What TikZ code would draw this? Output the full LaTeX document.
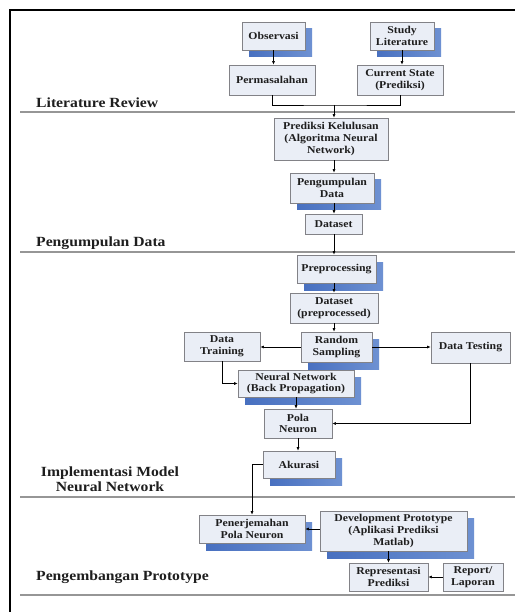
\documentclass[tikz,border=0pt]{standalone}
\usepackage{fontspec}
\setmainfont{Liberation Serif}[FakeStretch=1.12]
\usetikzlibrary{shadows,arrows.meta}
\definecolor{boxfill}{RGB}{234,238,246}
\definecolor{boxline}{RGB}{130,130,135}
\definecolor{shblue}{RGB}{72,112,192}
\definecolor{shblueL}{RGB}{110,145,210}
\definecolor{sepgray}{RGB}{150,150,150}
\definecolor{txt}{RGB}{30,30,30}
\tikzset{
  stepbox/.style={draw=boxline, line width=0.7pt, fill=boxfill, align=center,
    inner sep=1pt, text=txt,
    font=\fontsize{10.5}{11.6}\selectfont\bfseries},
  shbox/.style={stepbox, general shadow={left color=shblue, right color=shblueL, shadow xshift=7pt, shadow yshift=-7pt}},
  conn/.style={draw=black, line width=0.6pt},
  arr/.style={conn, -{Latex[length=3.5pt,width=3pt]}},
  seclabel/.style={inner sep=0pt, text=txt, align=center,
    font=\fontsize{14}{14}\selectfont\bfseries},
  sepline/.style={draw=sepgray, line width=1.3pt},
}
\newcommand{\bx}[6]{\node[#1, minimum width=#4pt, minimum height=#5pt] (#2) at #3 {#6};}
\begin{document}
\begin{tikzpicture}[x=1pt,y=-1pt]
\useasboundingbox (0,0) rectangle (515,612);
\fill[white] (0,0) rectangle (515,612);
% outer frame
\coordinate (fTL) at (10,10);
\coordinate (fTR) at (515,10);
\coordinate (fBL) at (10,612);
\draw[black, line width=1.6pt] (fBL) -- (fTL) -- (fTR);
% separators
\coordinate (s1a) at (20,112); \coordinate (s1b) at (515,112);
\coordinate (s2a) at (20,252); \coordinate (s2b) at (515,252);
\coordinate (s3a) at (20,497); \coordinate (s3b) at (515,497);
\coordinate (s4a) at (20,595); \coordinate (s4b) at (515,595);
\draw[sepline] (s1a) -- (s1b);
\draw[sepline] (s2a) -- (s2b);
\draw[sepline] (s3a) -- (s3b);
\draw[sepline] (s4a) -- (s4b);
% section labels
\node[seclabel, anchor=west] (l1) at (36,103) {Literature Review};
\node[seclabel, anchor=west] (l2) at (36,243) {Pengumpulan Data};
\node[seclabel, font=\fontsize{14}{14.5}\selectfont\bfseries] (l3) at (110,479) {Implementasi Model\\Neural Network};
\node[seclabel, anchor=west] (l4) at (36,577) {Pengembangan Prototype};
% boxes
\bx{shbox}{obs}{(273.5,36)}{63}{28}{Observasi}
\bx{shbox}{stu}{(402,36)}{64}{28}{Study\\Literature}
\bx{stepbox}{perm}{(272,80)}{86}{30}{Permasalahan}
\bx{stepbox}{cur}{(400,80)}{86}{30}{Current State\\(Prediksi)}
\bx{stepbox}{pred}{(331,139)}{114}{42}{Prediksi Kelulusan\\(Algoritma Neural\\Network)}
\bx{shbox}{peng}{(332,188)}{84}{30}{Pengumpulan\\Data}
\bx{stepbox}{ds}{(333.5,224)}{57}{20}{Dataset}
\bx{shbox}{pre}{(336.5,269)}{79}{28}{Preprocessing}
\bx{stepbox}{dsp}{(334,308)}{88}{30}{Dataset\\(preprocessed)}
\bx{shbox}{rs}{(336.5,347)}{71}{30}{Random\\Sampling}
\bx{stepbox}{dt}{(222,346.5)}{76}{29}{Data\\Training}
\bx{stepbox}{dte}{(470.5,347.5)}{79}{31}{Data Testing}
\bx{shbox}{nn}{(296,383.5)}{116}{27}{Neural Network\\(Back Propagation)}
\bx{stepbox}{pola}{(298,423.5)}{68}{29}{Pola\\Neuron}
\bx{shbox}{aku}{(299,464.5)}{72}{27}{Akurasi}
\bx{shbox}{pen}{(252,529)}{106}{28}{Penerjemahan\\Pola Neuron}
\bx{shbox}{dev}{(393.5,531)}{147}{40}{Development Prototype\\(Aplikasi Prediksi\\Matlab)}
\bx{stepbox}{rep}{(388.5,577)}{79}{28}{Representasi\\Prediksi}
\bx{stepbox}{lap}{(473,577)}{60}{28}{Report/\\Laporan}
% connectors
\draw[arr] (obs.south) -- (obs.south |- perm.north);
\draw[arr] (stu.south) -- (stu.south |- cur.north);
\coordinate (join) at (334,105);
\draw[conn] (perm.south) |- (join) -| (cur.south);
\draw[arr] (join) -- (join |- pred.north);
\draw[arr] (pred.south -| join) -- (join |- peng.north);
\draw[arr] (peng.south -| join) -- (join |- ds.north);
\draw[arr] (ds.south -| join) -- (join |- pre.north);
\draw[arr] (pre.south -| join) -- (join |- dsp.north);
\draw[arr] (dsp.south -| join) -- (join |- rs.north);
\draw[arr] (rs.west) -- (dt.east |- rs.west);
\draw[arr] (rs.east) -- (dte.west |- rs.east);
\draw[arr] (dt.south) |- (nn.west);
\draw[arr] (dte.south) |- (pola.east);
\draw[arr] (nn.south) -- (nn.south |- pola.north);
\draw[arr] (pola.south) -- (pola.south |- aku.north);
\draw[arr] (aku.west) -| (pen.north);
\draw[arr] (dev.west |- pen.east) -- (pen.east);
\draw[arr] (rep.north |- dev.south) -- (rep.north);
\draw[arr] (lap.west) -- (rep.east);
\end{tikzpicture}
\end{document}
